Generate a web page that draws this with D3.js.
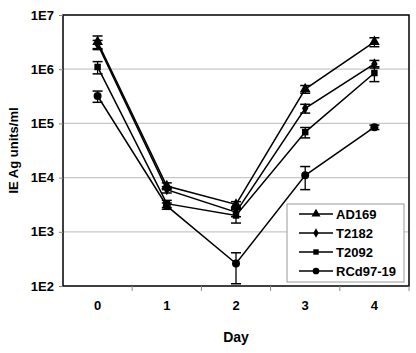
<!DOCTYPE html>
<html>
<head>
<meta charset="utf-8">
<script src="https://cdn.jsdelivr.net/npm/d3@7"></script>
<style>
  body { margin: 0; background: #fff; }
  text { font-family: Arial, "Liberation Sans", sans-serif; font-weight: bold; fill: #000; }
</style>
</head>
<body>
<div id="chart"></div>
<script>
"use strict";

var days = ["0", "1", "2", "3", "4"];
var seriesNames = ["AD169", "T2182", "T2092", "RCd97-19"];
var yTicks = [1e2, 1e3, 1e4, 1e5, 1e6, 1e7];
var yTickLabels = ["1E2", "1E3", "1E4", "1E5", "1E6", "1E7"];

var ad169 = [3.2e6, 7.0e3, 3.2e3, 4.3e5, 3.2e6];
var ad169Err = [0.9e6, 1.0e3, 0.4e3, 0.7e5, 0.6e6];
var t2182 = [2.9e6, 6.0e3, 2.3e3, 1.9e5, 1.25e6];
var t2182Err = [0.5e6, 0.8e3, 0.4e3, 0.35e5, 0.2e6];
var t2092 = [1.1e6, 3.3e3, 2.0e3, 6.9e4, 8.5e5];
var t2092Err = [0.28e6, 0.5e3, 0.55e3, 1.5e4, 2.6e5];
var rcd = [3.2e5, 3.0e3, 2.6e2, 1.1e4, 8.5e4];
var rcdErr = [0.75e5, 0.4e3, 1.5e2, 5.0e3, 0.8e4];

var data = [
  { name: seriesNames[0], values: ad169, err: ad169Err, symbol: d3.symbolTriangle, size: 50 },
  { name: seriesNames[1], values: t2182, err: t2182Err, symbol: d3.symbolDiamond, size: 36 },
  { name: seriesNames[2], values: t2092, err: t2092Err, symbol: d3.symbolSquare, size: 42 },
  { name: seriesNames[3], values: rcd, err: rcdErr, symbol: d3.symbolCircle, size: 50 }
];

var margin = { top: 15, right: 7, bottom: 67, left: 63 },
  width = 416 - margin.left - margin.right,
  height = 353 - margin.top - margin.bottom;

var x = d3.scaleBand().domain(days).range([0, width]);
var y = d3.scaleLog().domain([1e2, 1e7]).range([height, 0]);

var svg = d3
  .select("#chart")
  .append("svg")
  .attr("width", 416)
  .attr("height", 353)
  .append("g")
  .attr("transform", "translate(" + margin.left + "," + margin.top + ")");

// gridlines
svg
  .selectAll(".grid")
  .data(yTicks.slice(1, -1))
  .enter()
  .append("line")
  .attr("x1", 0)
  .attr("x2", width)
  .attr("y1", function(d) { return y(d); })
  .attr("y2", function(d) { return y(d); })
  .style("stroke", "#c8c8c8")
  .style("stroke-width", 1.3);

// frame
svg
  .append("rect")
  .attr("width", width)
  .attr("height", height)
  .style("fill", "none")
  .style("stroke", "#000")
  .style("stroke-width", 1.5);

// y axis
var yAxis = svg
  .append("g")
  .call(
    d3.axisLeft(y)
      .tickValues(yTicks)
      .tickFormat(function(d, i) { return yTickLabels[i]; })
      .tickSize(4)
      .tickPadding(5)
  );
yAxis.select(".domain").remove();
yAxis.selectAll("line").style("stroke", "#888");
yAxis.selectAll("text").style("font-size", "13px");

// x axis: ticks at category boundaries
var xAxis = svg
  .append("g")
  .attr("transform", "translate(0," + height + ")")
  .call(d3.axisBottom(x).tickSize(0).tickPadding(15));
xAxis.select(".domain").remove();
xAxis.selectAll("text").style("font-size", "13px");

svg
  .selectAll(".xtick")
  .data(days.slice(1).concat(["end"]))
  .enter()
  .append("line")
  .attr("x1", function(d, i) { return x(days[i]) + x.bandwidth(); })
  .attr("x2", function(d, i) { return x(days[i]) + x.bandwidth(); })
  .attr("y1", height)
  .attr("y2", height + 5)
  .style("stroke", "#888");

svg
  .append("text")
  .attr("x", width / 2)
  .attr("y", height + 56)
  .attr("text-anchor", "middle")
  .style("font-size", "14px")
  .text("Day");

svg
  .append("text")
  .attr("transform", "translate(" + (-45) + "," + height / 2 + ") rotate(-90)")
  .attr("text-anchor", "middle")
  .style("font-size", "13px")
  .text("IE Ag units/ml");

var cx = function(i) { return x(days[i]) + x.bandwidth() / 2; };

var line = d3
  .line()
  .x(function(d, i) { return cx(i); })
  .y(function(d) { return y(d); });

data.forEach(function(s) {
  var g = svg.append("g");

  g.append("path")
    .attr("d", line(s.values))
    .style("fill", "none")
    .style("stroke", "#000")
    .style("stroke-width", 1.5);

  s.values.forEach(function(v, i) {
    var hi = y(v + s.err[i]),
      lo = y(Math.max(v - s.err[i], 1e2));
    g.append("line")
      .attr("x1", cx(i)).attr("x2", cx(i))
      .attr("y1", hi).attr("y2", lo)
      .style("stroke", "#000")
      .style("stroke-width", 1.3);
    [hi, lo].forEach(function(yy) {
      g.append("line")
        .attr("x1", cx(i) - 5).attr("x2", cx(i) + 5)
        .attr("y1", yy).attr("y2", yy)
        .style("stroke", "#000")
        .style("stroke-width", 1.5);
    });
  });

  g.selectAll(".pt")
    .data(s.values)
    .enter()
    .append("path")
    .attr("d", d3.symbol().type(s.symbol).size(s.size))
    .attr("transform", function(d, i) {
      return "translate(" + cx(i) + "," + y(d) + ")";
    })
    .style("fill", "#000");
});

// legend
var legend = svg
  .append("g")
  .attr("transform", "translate(" + (287 - margin.left) + "," + (204 - margin.top) + ")");

legend
  .append("rect")
  .attr("width", 117)
  .attr("height", 78)
  .style("fill", "#fff")
  .style("stroke", "#999")
  .style("stroke-width", 1);

data.forEach(function(s, i) {
  var ly = 10 + i * 19;
  legend.append("line")
    .attr("x1", 12).attr("x2", 46)
    .attr("y1", ly).attr("y2", ly)
    .style("stroke", "#000")
    .style("stroke-width", 1.5);
  legend.append("path")
    .attr("d", d3.symbol().type(s.symbol).size(s.size * 0.7))
    .attr("transform", "translate(29," + ly + ")")
    .style("fill", "#000");
  legend.append("text")
    .attr("x", 49)
    .attr("y", ly)
    .attr("dy", "0.35em")
    .style("font-size", "13px")
    .text(s.name);
});
</script>
</body>
</html>
